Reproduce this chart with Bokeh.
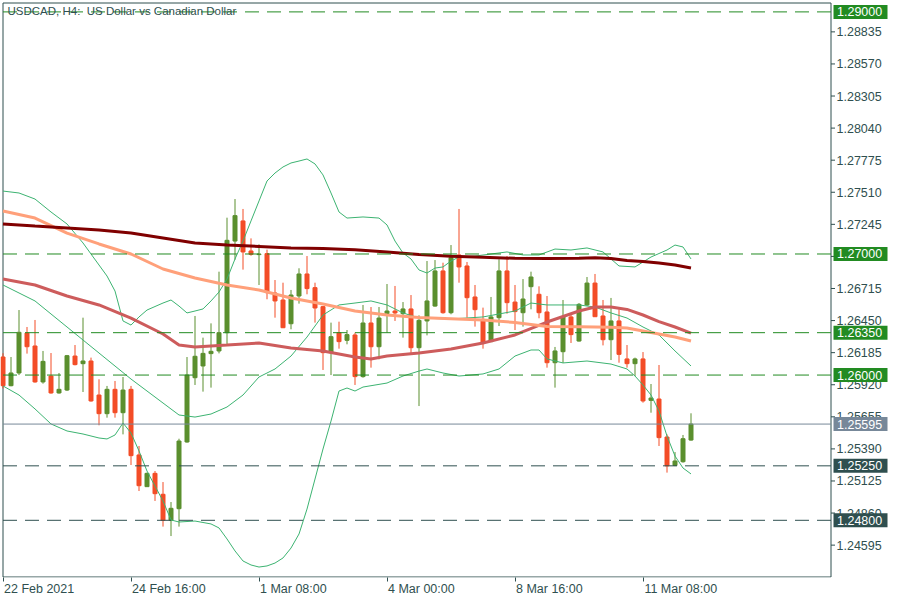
from bokeh.plotting import figure
from bokeh.models import Range1d, FixedTicker, Label, NumeralTickFormatter, ColumnDataSource
from bokeh.embed import file_html
from bokeh.resources import INLINE

# ---------------- data (USDCAD H4, 22 Feb 2021 -> 12 Mar 2021) ----------------
open_ = [1.26149, 1.25912, 1.26017, 1.26347, 1.26240, 1.25943, 1.25992, 1.25852, 1.25876, 1.26157,
         1.26094, 1.26116, 1.25835, 1.25681, 1.25882, 1.25689, 1.25882, 1.25340, 1.25078, 1.25188,
         1.25015, 1.24800, 1.24896, 1.25447, 1.25978, 1.26075, 1.26177, 1.26199, 1.26350, 1.27107,
         1.27273, 1.27025, 1.26995, 1.27003, 1.26678, 1.26620, 1.26424, 1.26653, 1.26835, 1.26722,
         1.26565, 1.26185, 1.26350, 1.26287, 1.26331, 1.25987, 1.26430, 1.26234, 1.26507, 1.26529,
         1.26507, 1.26546, 1.26226, 1.26447, 1.26570, 1.26860, 1.26515, 1.26992, 1.26901, 1.26645,
         1.26460, 1.26276, 1.26474, 1.26860, 1.26603, 1.26515, 1.26730, 1.26667, 1.26521, 1.26102,
         1.26193, 1.26480, 1.26281, 1.26579, 1.26760, 1.26488, 1.26292, 1.26447, 1.26133, 1.26094,
         1.26133, 1.25791, 1.25802, 1.25488, 1.25253, 1.25284, 1.25463]
high = [1.26180, 1.26149, 1.26537, 1.26397, 1.26455, 1.26199, 1.26182, 1.26017, 1.26166, 1.26248,
        1.26474, 1.26144, 1.25965, 1.25910, 1.25951, 1.25984, 1.25910, 1.25414, 1.25194, 1.25207,
        1.25116, 1.24951, 1.25474, 1.26149, 1.26488, 1.26309, 1.26427, 1.26854, 1.27300, 1.27454,
        1.27372, 1.27129, 1.27080, 1.27036, 1.26785, 1.26763, 1.26703, 1.26882, 1.26983, 1.26763,
        1.26570, 1.26433, 1.26441, 1.26372, 1.26350, 1.26579, 1.26562, 1.26562, 1.26752, 1.26736,
        1.26603, 1.26661, 1.26493, 1.26942, 1.26950, 1.26928, 1.27074, 1.27372, 1.26934, 1.26744,
        1.26557, 1.26645, 1.26956, 1.26983, 1.26744, 1.26793, 1.26854, 1.26733, 1.26653, 1.26232,
        1.26620, 1.26507, 1.26595, 1.26810, 1.26835, 1.26620, 1.26637, 1.26543, 1.26248, 1.26144,
        1.26190, 1.25926, 1.26083, 1.25510, 1.25364, 1.25505, 1.25684]
low = [1.25890, 1.25907, 1.26000, 1.26177, 1.25937, 1.25929, 1.25846, 1.25846, 1.25868, 1.26080,
       1.25860, 1.25780, 1.25585, 1.25648, 1.25648, 1.25510, 1.25257, 1.25042, 1.25078, 1.24960,
       1.24748, 1.24670, 1.24748, 1.25441, 1.25918, 1.25863, 1.25896, 1.26179, 1.26254, 1.26953,
       1.26871, 1.26986, 1.26744, 1.26626, 1.26474, 1.26388, 1.26378, 1.26590, 1.26667, 1.26433,
       1.26042, 1.26000, 1.26218, 1.26254, 1.25918, 1.25978, 1.26061, 1.26130, 1.26350, 1.26447,
       1.26309, 1.26182, 1.25744, 1.26328, 1.26565, 1.26507, 1.26502, 1.26763, 1.26474, 1.26400,
       1.26218, 1.26273, 1.26405, 1.26507, 1.26372, 1.26400, 1.26543, 1.26469, 1.26061, 1.25896,
       1.26100, 1.26265, 1.26276, 1.26570, 1.26480, 1.26245, 1.26124, 1.26102, 1.26061, 1.25992,
       1.25772, 1.25689, 1.25414, 1.25194, 1.25248, 1.25276, 1.25458]
close = [1.25912, 1.26017, 1.26353, 1.26234, 1.25943, 1.26113, 1.25852, 1.25882, 1.26160, 1.26086,
         1.26116, 1.25786, 1.25681, 1.25882, 1.25689, 1.25876, 1.25334, 1.25086, 1.25188, 1.25020,
         1.24800, 1.24899, 1.25455, 1.26000, 1.26155, 1.26179, 1.26196, 1.26350, 1.27113, 1.27317,
         1.27017, 1.26997, 1.27000, 1.26681, 1.26612, 1.26391, 1.26661, 1.26835, 1.26714, 1.26554,
         1.26185, 1.26317, 1.26276, 1.26334, 1.25987, 1.26430, 1.26234, 1.26471, 1.26529, 1.26513,
         1.26546, 1.26226, 1.26452, 1.26612, 1.26860, 1.26515, 1.26970, 1.26893, 1.26639, 1.26540,
         1.26273, 1.26480, 1.26860, 1.26598, 1.26524, 1.26628, 1.26810, 1.26515, 1.26102, 1.26199,
         1.26480, 1.26334, 1.26584, 1.26760, 1.26482, 1.26292, 1.26447, 1.26171, 1.26094, 1.26133,
         1.25786, 1.25810, 1.25483, 1.25250, 1.25290, 1.25474, 1.25595]

# moving averages (bar index, value)
ma_slow_idx = [0, 4, 8, 12, 16, 20, 24, 28, 32, 36, 40, 44, 48, 52, 56, 60, 64, 68, 72, 74, 76, 78, 80, 82, 84, 86]
ma_slow = [1.27248, 1.27231, 1.27215, 1.27198, 1.27173, 1.27132, 1.27091, 1.27074, 1.27062, 1.27050,
           1.27045, 1.27036, 1.27017, 1.26996, 1.26981, 1.26974, 1.26964, 1.26963, 1.26964, 1.26969,
           1.26963, 1.26946, 1.26938, 1.26926, 1.26909, 1.26884]
ma_mid_idx = [0, 4, 8, 12, 16, 20, 24, 28, 32, 36, 40, 44, 48, 52, 56, 60, 64, 68, 72, 76, 78, 80, 82, 84, 86]
ma_mid = [1.27355, 1.27297, 1.27173, 1.27083, 1.27000, 1.26876, 1.26802, 1.26744, 1.26703, 1.26637,
          1.26587, 1.26529, 1.26496, 1.26475, 1.26466, 1.26455, 1.26434, 1.26401, 1.26399, 1.26394,
          1.26389, 1.26364, 1.26339, 1.26314, 1.26281]
ma_fast_idx = [0, 4, 8, 12, 16, 20, 22, 24, 28, 32, 36, 40, 44, 46, 48, 52, 56, 60, 64, 68, 72, 74, 76, 78, 80, 82, 84, 86]
ma_fast = [1.26793, 1.26744, 1.26653, 1.26579, 1.26471, 1.26339, 1.26248, 1.26232, 1.26248, 1.26265,
           1.26223, 1.26199, 1.26149, 1.26133, 1.26157, 1.26182, 1.26215, 1.26265, 1.26331, 1.26438,
           1.26529, 1.26562, 1.26562, 1.26542, 1.26496, 1.26442, 1.26397, 1.26347]

# Bollinger bands
bb_up_idx = [0, 2, 4, 6, 8, 10, 12, 13, 14, 15, 16, 17, 18, 20, 21, 22, 23, 24, 25, 26, 27, 28, 29, 30,
             31, 32, 33, 34, 35, 36, 37, 38, 39, 40, 41, 42, 43, 45, 47, 48, 49, 50, 51, 52, 53, 54, 55,
             56, 57, 59, 61, 63, 65, 67, 69, 71, 73, 75, 77, 79, 81, 83, 84, 85, 86]
bb_up = [1.27520, 1.27504, 1.27454, 1.27347, 1.27248, 1.27091, 1.26909, 1.26818, 1.26694, 1.26447,
         1.26413, 1.26480, 1.26537, 1.26595, 1.26620, 1.26570, 1.26513, 1.26529, 1.26546, 1.26612,
         1.26686, 1.26793, 1.26959, 1.27107, 1.27273, 1.27438, 1.27603, 1.27669, 1.27719, 1.27752,
         1.27768, 1.27785, 1.27744, 1.27653, 1.27504, 1.27347, 1.27297, 1.27306, 1.27297, 1.27240,
         1.27107, 1.27008, 1.26959, 1.26868, 1.26843, 1.26884, 1.26893, 1.26942, 1.26975, 1.26983,
         1.27000, 1.27017, 1.26992, 1.26992, 1.27041, 1.27033, 1.27050, 1.27017, 1.26901, 1.26893,
         1.26975, 1.27033, 1.27074, 1.27058, 1.26959]
bb_mid_idx = [0, 4, 8, 12, 16, 20, 22, 24, 26, 28, 30, 32, 34, 36, 38, 40, 42, 44, 46, 48, 50, 52, 56,
              60, 64, 66, 68, 72, 74, 76, 78, 80, 82, 84, 86]
bb_mid = [1.26744, 1.26612, 1.26397, 1.26182, 1.25967, 1.25769, 1.25670, 1.25653, 1.25678, 1.25736,
          1.25835, 1.25984, 1.26050, 1.26157, 1.26314, 1.26496, 1.26579, 1.26595, 1.26612, 1.26579,
          1.26513, 1.26471, 1.26463, 1.26480, 1.26529, 1.26595, 1.26579, 1.26579, 1.26562, 1.26513,
          1.26471, 1.26397, 1.26331, 1.26199, 1.26075]
bb_lo_idx = [0, 2, 4, 6, 8, 10, 12, 13, 14, 15, 16, 17, 18, 19, 20, 21, 22, 24, 26, 27, 28, 29, 30, 31,
             32, 33, 34, 35, 36, 37, 38, 39, 40, 41, 42, 43, 44, 45, 48, 50, 52, 53, 55, 57, 60, 62, 64,
             66, 67, 68, 70, 73, 76, 78, 79, 80, 81, 82, 83, 84, 85, 86]
bb_lo = [1.25910, 1.25835, 1.25720, 1.25596, 1.25538, 1.25513, 1.25480, 1.25472, 1.25505, 1.25604,
         1.25521, 1.25373, 1.25207, 1.25083, 1.24960, 1.24803, 1.24786, 1.24794, 1.24770, 1.24737,
         1.24646, 1.24547, 1.24464, 1.24431, 1.24414, 1.24423, 1.24447, 1.24489, 1.24571, 1.24687,
         1.24893, 1.25141, 1.25389, 1.25620, 1.25868, 1.25893, 1.25868, 1.25901, 1.25934, 1.25992,
         1.26033, 1.26050, 1.26017, 1.25992, 1.26009, 1.26050, 1.26157, 1.26207, 1.26207, 1.26133,
         1.26100, 1.26116, 1.26091, 1.26050, 1.25992, 1.25918, 1.25835, 1.25703, 1.25496, 1.25331,
         1.25232, 1.25183]

# horizontal levels
green_levels = [1.29000, 1.27000, 1.26350, 1.26000]
dark_levels = [1.25250, 1.24800]
last_price = 1.25595

# axes
y_ticks = [1.24595, 1.24860, 1.25125, 1.25390, 1.25655, 1.25920, 1.26185, 1.26450, 1.26715,
           1.26980, 1.27245, 1.27510, 1.27775, 1.28040, 1.28305, 1.28570, 1.28835]
x_tick_bars = [0, 16, 32, 48, 64, 80]
x_tick_labels = ["22 Feb 2021", "24 Feb 16:00", "1 Mar 08:00", "4 Mar 00:00", "8 Mar 16:00", "11 Mar 08:00"]
title_text = "USDCAD, H4:\u00a0 US Dollar vs Canadian Dollar"

# ---------------- layout / styling ----------------
FONT = "Liberation Sans"
TXT = "#2F4F4F"
BULL = "#5b8f2e"
BEAR = "#f34d27"
GREEN_LVL = "#228B22"
GRAY_LVL = "#778899"

FRAME_W, FRAME_H = 888, 577
BAR_PX = 8.0                         # pixels per bar
TAG_W, TAG_H, TAG_GAP = 54, 14, 2.5  # price tag box (pixels)
LEFT_PX, TOP_PX, BOT_PX = 2.5, 2.5, 576.5   # window border positions inside the frame (pixels)
X_LEFT, X_AXIS = 0.0, 103.5          # chart window edges in bar units (left border, price axis)
X_START = X_LEFT - LEFT_PX / BAR_PX
X_END = X_START + FRAME_W / BAR_PX
Y_TOP, Y_BOT = 1.290735, 1.243317    # chart window edges in price units
PX_PRICE = (Y_TOP - Y_BOT) / (BOT_PX - TOP_PX)
Y_END, Y_START = Y_TOP + TOP_PX * PX_PRICE, Y_BOT - (FRAME_H - BOT_PX) * PX_PRICE

p = figure(frame_width=FRAME_W, frame_height=FRAME_H,
           x_range=Range1d(X_START, X_END), y_range=Range1d(Y_START, Y_END),
           y_axis_location="right", output_backend="svg", toolbar_location=None,
           min_border_left=0, min_border_top=0, min_border_right=2, min_border_bottom=0)
p.xgrid.visible = False
p.ygrid.visible = False
p.outline_line_color = None
p.background_fill_color = "white"
p.border_fill_color = "white"

# price axis: real axis at the far right, labels drawn back to the left of it, next to the window edge
yax = p.yaxis[0]
yax.ticker = FixedTicker(ticks=y_ticks)
yax.formatter = NumeralTickFormatter(format="0.00000")
yax.major_tick_out = 0
yax.major_tick_in = 0
yax.minor_tick_out = 0
yax.minor_tick_in = 0
yax.axis_line_color = None
yax.major_label_text_color = TXT
yax.major_label_text_font = FONT
yax.major_label_text_font_size = "12.5px"
yax.major_label_standoff = -int(round((X_END - X_AXIS) * BAR_PX - 6))

# time axis: tick marks at bar positions (minor ticks), labels placed to the right of each mark
label_w_px = [70.2, 73.7, 66.7, 66.7, 66.7, 73.6]
label_pos = [round(b + (w / 2 + 1) / BAR_PX, 3) for b, w in zip(x_tick_bars, label_w_px)]
xax = p.xaxis[0]
xax.ticker = FixedTicker(ticks=label_pos, minor_ticks=x_tick_bars)
xax.major_label_overrides = {pos: lab for pos, lab in zip(label_pos, x_tick_labels)}
xax.major_tick_out = 0
xax.major_tick_in = 0
xax.minor_tick_out = 4
xax.minor_tick_in = 0
xax.minor_tick_line_color = TXT
xax.axis_line_color = None
xax.major_label_text_color = TXT
xax.major_label_text_font = FONT
xax.major_label_text_font_size = "12.5px"
xax.major_label_standoff = 0

# window border and price-axis line with its tick marks
p.segment(x0=[X_LEFT, X_LEFT], y0=[Y_TOP, Y_BOT], x1=[X_AXIS, X_AXIS], y1=[Y_TOP, Y_BOT],
          line_color=TXT, line_width=1)
p.segment(x0=[X_LEFT, X_AXIS], y0=[Y_BOT, Y_BOT], x1=[X_LEFT, X_AXIS], y1=[Y_TOP, Y_TOP],
          line_color=TXT, line_width=1)
p.segment(x0=[X_AXIS] * len(y_ticks), y0=y_ticks, x1=[X_AXIS + 4 / BAR_PX] * len(y_ticks), y1=y_ticks,
          line_color=TXT, line_width=1)

# candles
bars = list(range(len(open_)))
bull = [i for i in bars if close[i] >= open_[i]]
bear = [i for i in bars if close[i] < open_[i]]
for sel, col in ((bull, BULL), (bear, BEAR)):
    src = ColumnDataSource(dict(
        x=sel,
        high=[high[i] for i in sel],
        low=[low[i] for i in sel],
        top=[max(open_[i], close[i]) for i in sel],
        bottom=[min(open_[i], close[i]) for i in sel],
    ))
    p.segment(x0="x", y0="low", x1="x", y1="high", source=src, line_color=col, line_width=1)
    p.vbar(x="x", top="top", bottom="bottom", width=0.5, source=src,
           fill_color=col, line_color=col, line_width=1)

# indicators
p.line(bb_up_idx, bb_up, line_color="#3CB371", line_width=1)
p.line(bb_mid_idx, bb_mid, line_color="#3CB371", line_width=1)
p.line(bb_lo_idx, bb_lo, line_color="#3CB371", line_width=1)
p.line(ma_fast_idx, ma_fast, line_color="#CD5C5C", line_width=3)
p.line(ma_mid_idx, ma_mid, line_color="#FFA07A", line_width=3)
p.line(ma_slow_idx, ma_slow, line_color="#800000", line_width=3)

# level lines
n_g, n_d = len(green_levels), len(dark_levels)
p.segment(x0=[X_LEFT] * n_g, y0=green_levels, x1=[X_AXIS] * n_g, y1=green_levels,
          line_color=GREEN_LVL, line_dash="14 8", line_width=1)
p.segment(x0=[X_LEFT] * n_d, y0=dark_levels, x1=[X_AXIS] * n_d, y1=dark_levels,
          line_color=TXT, line_dash="14 8", line_width=1)
p.segment(x0=[X_LEFT], y0=[last_price], x1=[X_AXIS], y1=[last_price], line_color=GRAY_LVL, line_width=1)

# price tags on the axis (box + white text), drawn above the axis labels
tag_levels = green_levels + dark_levels + [last_price]
tag_colors = [GREEN_LVL] * n_g + [TXT] * n_d + [GRAY_LVL]
tag_x = X_AXIS + (TAG_GAP + TAG_W / 2) / BAR_PX
p.rect(x=[tag_x] * len(tag_levels), y=tag_levels, width=TAG_W, height=TAG_H,
       width_units="screen", height_units="screen", fill_color=tag_colors, line_color=None,
       level="annotation")
for lvl in tag_levels:
    p.add_layout(Label(x=X_AXIS, y=lvl, x_offset=TAG_GAP + 3.5, text=f"{lvl:.5f}", text_color="white",
                       text_font=FONT, text_font_size="12.5px", text_align="left",
                       text_baseline="middle", level="overlay"))

# title
p.add_layout(Label(x=X_LEFT, y=Y_TOP, x_offset=4.5, y_offset=-2, text=title_text, text_color=TXT,
                   text_font=FONT, text_font_size="11.5px", text_align="left", text_baseline="top"))

open("out.html", "w").write(file_html(p, INLINE))
